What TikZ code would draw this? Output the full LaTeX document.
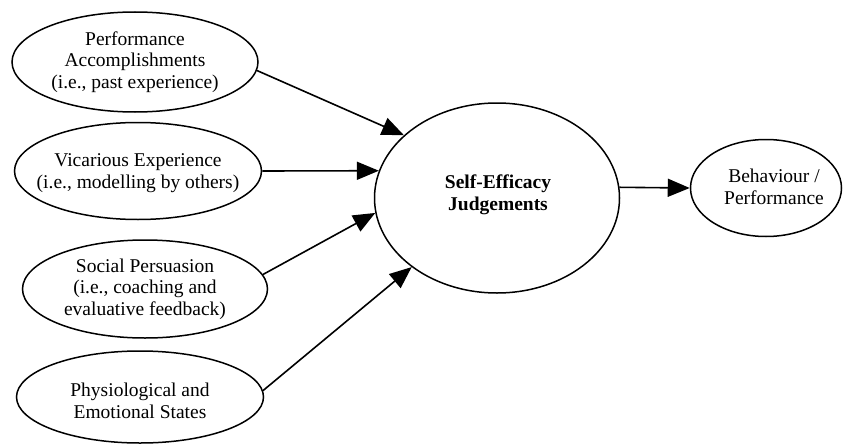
\documentclass[tikz,border=0pt]{standalone}
\usepackage{fontspec}
\setmainfont{Liberation Serif}
\usetikzlibrary{shapes.geometric,arrows.meta}
\begin{document}
\begin{tikzpicture}[x=1pt,y=-1pt,
  oval/.style={draw, ellipse, line width=1.5pt, inner sep=0pt},
  txt/.style={align=center, inner sep=0pt,
    font=\fontsize{19.5}{21.5}\selectfont},
  flow/.style={line width=1.6pt, -{Triangle[length=22pt,width=18pt]}}]
\useasboundingbox (0,0) rectangle (843,444);

% sources of efficacy information
\node[oval, minimum width=246pt, minimum height=100pt] (perf) at (135,62) {};
\node[txt] (perf-t) at (135,62)
  {Performance\\Accomplishments\\(i.e., past experience)};
\node[oval, minimum width=247pt, minimum height=97pt] (vic) at (138,171) {};
\node[txt] (vic-t) at (138,173)
  {Vicarious Experience\\(i.e., modelling by others)};
\node[oval, minimum width=245pt, minimum height=98pt] (soc) at (145,289) {};
\node[txt] (soc-t) at (145,289)
  {Social Persuasion\\(i.e., coaching and\\evaluative feedback)};
\node[oval, minimum width=247pt, minimum height=92pt] (phys) at (140,397) {};
\node[txt] (phys-t) at (140,401)
  {Physiological and\\Emotional States};

% central construct and outcome
\node[oval, minimum width=245pt, minimum height=190pt] (self) at (497,198) {};
\node[txt, font=\fontsize{19.5}{21.5}\selectfont\bfseries] (self-t) at (498,195)
  {Self-Efficacy\\Judgements};
\node[oval, minimum width=151pt, minimum height=97pt] (beh) at (766,188) {};
\node[txt] (beh-t) at (774,187)
  {Behaviour /\\Performance};

% influences
\draw[flow] (perf.-4) -- (self.146);
\draw[flow] (vic.east) -- (self.167);
\draw[flow] (soc.7) -- (self.187);
\draw[flow] (phys.3) -- (self.219);
\draw[flow] (self.5) -- (beh.west);
\end{tikzpicture}
\end{document}
